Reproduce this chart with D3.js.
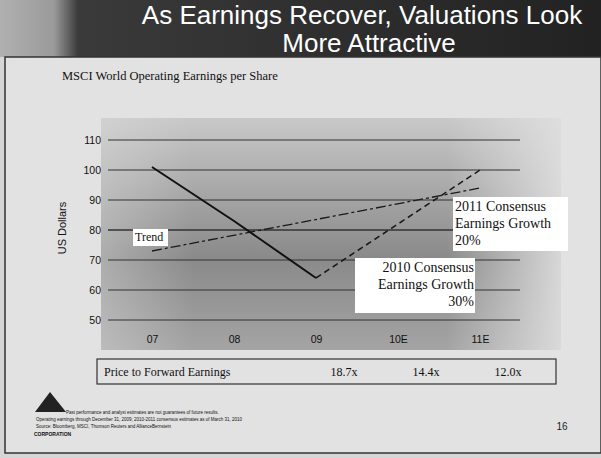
<!DOCTYPE html>
<html>
<head>
<meta charset="utf-8">
<script src="https://cdn.jsdelivr.net/npm/d3@7"></script>
<style>
  body { margin: 0; background: #fff; }
  svg { display: block; }
</style>
</head>
<body>
<svg id="chart"></svg>
<script>
// Data
var years = ["07", "08", "09", "10E", "11E"];
var actualEps = [101, 83, 64];            // 07 - 09, solid line
var consensusYears = ["09", "10E", "11E"];
var consensusEps = [64, 82, 100];          // dashed line
var trendYears = ["07", "11E"];
var trendEps = [73, 94];
var yTicks = [50, 60, 70, 80, 90, 100, 110];
var peYears = ["09", "10E", "11E"];
var peLabels = ["18.7x", "14.4x", "12.0x"];

var width = 601, height = 458;
var svg = d3.select("#chart").attr("width", width).attr("height", height);
var defs = svg.append("defs");

// Gradients
var bandGrad = defs.append("linearGradient").attr("id", "band");
bandGrad.append("stop").attr("offset", "0%").attr("stop-color", "#b0b0b0");
bandGrad.append("stop").attr("offset", "9%").attr("stop-color", "#9a9a9a");
bandGrad.append("stop").attr("offset", "13%").attr("stop-color", "#3a3a3a");
bandGrad.append("stop").attr("offset", "100%").attr("stop-color", "#222");

var plotGrad = defs.append("linearGradient").attr("id", "plot")
    .attr("x1", 0).attr("y1", 0).attr("x2", 0).attr("y2", 1);
plotGrad.append("stop").attr("offset", "0%").attr("stop-color", "#c8c8c8");
plotGrad.append("stop").attr("offset", "60%").attr("stop-color", "#8a8a8a");
plotGrad.append("stop").attr("offset", "100%").attr("stop-color", "#a4a4a4");

var fadeGrad = defs.append("linearGradient").attr("id", "fade");
fadeGrad.append("stop").attr("offset", "0%").attr("stop-color", "#e0e0e0").attr("stop-opacity", 0.4);
fadeGrad.append("stop").attr("offset", "20%").attr("stop-color", "#e0e0e0").attr("stop-opacity", 0);
fadeGrad.append("stop").attr("offset", "75%").attr("stop-color", "#e0e0e0").attr("stop-opacity", 0);
fadeGrad.append("stop").attr("offset", "100%").attr("stop-color", "#e0e0e0").attr("stop-opacity", 0.9);

// Slide background and title band
svg.append("rect").attr("width", width).attr("height", height).attr("fill", "#d6d6d6");
svg.append("rect").attr("x", 0).attr("y", 0).attr("width", width).attr("height", 57).attr("fill", "url(#band)");
svg.append("rect").attr("x", 5).attr("y", 57).attr("width", 596).attr("height", 396)
    .attr("fill", "#e2e2e2").attr("stroke", "#333").attr("stroke-width", 1.5);

svg.append("text").attr("x", 362).attr("y", 24).attr("text-anchor", "middle")
    .attr("font-family", "Liberation Sans, Arial, sans-serif").attr("font-size", 26)
    .attr("fill", "#fff").text("As Earnings Recover, Valuations Look");
svg.append("text").attr("x", 369).attr("y", 52).attr("text-anchor", "middle")
    .attr("font-family", "Liberation Sans, Arial, sans-serif").attr("font-size", 26)
    .attr("fill", "#fff").text("More Attractive");

svg.append("text").attr("x", 62).attr("y", 80)
    .attr("font-family", "Liberation Serif, Times New Roman, serif").attr("font-size", 12.5)
    .attr("fill", "#111").text("MSCI World Operating Earnings per Share");

// Plot area background
svg.append("rect").attr("x", 101).attr("y", 118).attr("width", 460).attr("height", 232).attr("fill", "url(#plot)");
svg.append("rect").attr("x", 101).attr("y", 118).attr("width", 460).attr("height", 232).attr("fill", "url(#fade)");

// Scales
var x = d3.scalePoint().domain(years).range([152, 480]);
var y = d3.scaleLinear().domain([50, 110]).range([320, 140]);

// Gridlines
svg.append("g").selectAll("line").data(yTicks).join("line")
    .attr("x1", 108).attr("x2", 520)
    .attr("y1", function (d) { return y(d); }).attr("y2", function (d) { return y(d); })
    .attr("stroke", "#333").attr("stroke-width", function (d) { return d === 80 ? 1.5 : 1; });

// Y axis labels
var yAxis = d3.axisLeft(y).tickValues(yTicks).tickSize(0).tickPadding(0);
svg.append("g").attr("transform", "translate(101,0)").call(yAxis)
    .call(function (g) { g.select(".domain").remove(); })
    .selectAll("text").attr("font-family", "Liberation Sans, Arial, sans-serif")
    .attr("font-size", 10.5).attr("fill", "#111");

svg.append("text").attr("transform", "translate(66,228) rotate(-90)").attr("text-anchor", "middle")
    .attr("font-family", "Liberation Sans, Arial, sans-serif").attr("font-size", 11)
    .attr("fill", "#111").text("US Dollars");

// X axis labels
var xAxis = d3.axisBottom(x).tickSize(0).tickPadding(0);
svg.append("g").attr("transform", "translate(0,336)").call(xAxis)
    .call(function (g) { g.select(".domain").remove(); })
    .selectAll("text").attr("font-family", "Liberation Sans, Arial, sans-serif")
    .attr("font-size", 10.5).attr("fill", "#111");

// Lines
var line = d3.line().x(function (d) { return x(d[0]); }).y(function (d) { return y(d[1]); });

svg.append("path").datum(d3.zip(trendYears, trendEps)).attr("d", line)
    .attr("fill", "none").attr("stroke", "#1a1a1a").attr("stroke-width", 1.3)
    .attr("stroke-dasharray", "10,3,3,3");

svg.append("path").datum(d3.zip(consensusYears, consensusEps)).attr("d", line)
    .attr("fill", "none").attr("stroke", "#1a1a1a").attr("stroke-width", 1.5)
    .attr("stroke-dasharray", "6,4");

svg.append("path").datum(d3.zip(years.slice(0, 3), actualEps)).attr("d", line)
    .attr("fill", "none").attr("stroke", "#111").attr("stroke-width", 2);

// Callout boxes
function callout(bx, by, bw, bh, lines, anchor, fs, lh) {
    svg.append("rect").attr("x", bx).attr("y", by).attr("width", bw).attr("height", bh).attr("fill", "#fff");
    var tx = anchor === "end" ? bx + bw - 1 : bx + 2;
    svg.append("text").attr("font-family", "Liberation Serif, Times New Roman, serif")
        .attr("font-size", fs).attr("fill", "#111").attr("text-anchor", anchor)
        .selectAll("tspan").data(lines).join("tspan")
        .attr("x", tx).attr("y", function (d, i) { return by + fs + i * lh; })
        .text(function (d) { return d; });
}
callout(133, 229, 35, 17, ["Trend"], "start", 12, 16);
callout(453, 197, 115, 54, ["2011 Consensus", "Earnings Growth", "20%"], "start", 14, 17);
callout(355, 258, 120, 55, ["2010 Consensus", "Earnings Growth", "30%"], "end", 14, 17);

// Price to forward earnings row
svg.append("rect").attr("x", 97).attr("y", 359).attr("width", 459).attr("height", 25)
    .attr("fill", "none").attr("stroke", "#333").attr("stroke-width", 1.2);
svg.append("text").attr("x", 104).attr("y", 376)
    .attr("font-family", "Liberation Serif, Times New Roman, serif").attr("font-size", 12)
    .attr("fill", "#111").text("Price to Forward Earnings");
svg.append("g").selectAll("text").data(d3.zip(peYears, peLabels)).join("text")
    .attr("x", function (d) { return x(d[0]) + 28; }).attr("y", 376).attr("text-anchor", "middle")
    .attr("font-family", "Liberation Serif, Times New Roman, serif").attr("font-size", 12)
    .attr("fill", "#111").text(function (d) { return d[1]; });

// Footer: logo and source notes
svg.append("path").attr("d", "M35,412 L50,392 L66,412 Z").attr("fill", "#222");
var notes = [
    "Past performance and analyst estimates are not guarantees of future results.",
    "Operating earnings through December 31, 2009; 2010-2011 consensus estimates as of March 31, 2010",
    "Source: Bloomberg, MSCI, Thomson Reuters and AllianceBernstein"
];
svg.append("g").selectAll("text").data(notes).join("text")
    .attr("x", function (d, i) { return i === 0 ? 66 : 36; })
    .attr("y", function (d, i) { return 414 + i * 7; })
    .attr("font-family", "Liberation Sans, Arial, sans-serif").attr("font-size", 4.5)
    .attr("fill", "#111").text(function (d) { return d; });
svg.append("text").attr("x", 34).attr("y", 436)
    .attr("font-family", "Liberation Sans, Arial, sans-serif").attr("font-size", 5).attr("font-weight", "bold")
    .attr("fill", "#111").text("CORPORATION");
svg.append("text").attr("x", 562).attr("y", 430).attr("text-anchor", "middle")
    .attr("font-family", "Liberation Sans, Arial, sans-serif").attr("font-size", 10)
    .attr("fill", "#222").text("16");
</script>
</body>
</html>
